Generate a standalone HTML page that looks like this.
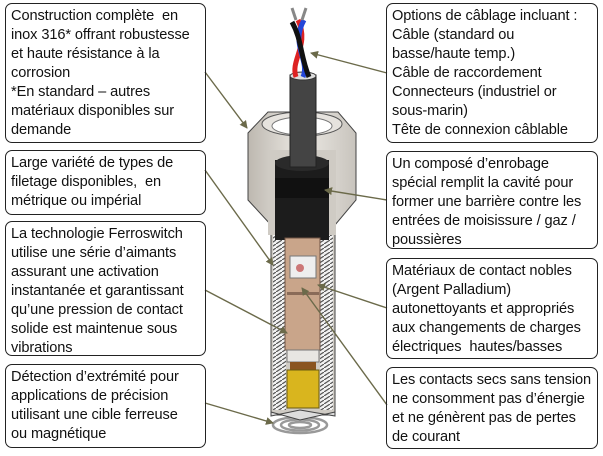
<!DOCTYPE html>
<html><head><meta charset="utf-8"><style>
html,body{margin:0;padding:0;background:#fff;}
body{width:603px;height:456px;position:relative;overflow:hidden;font-family:"Liberation Sans",sans-serif;}
.b{position:absolute;border:1.3px solid #222;border-radius:7px;box-sizing:border-box;padding:3px 2px 0 5px;font-size:14.6px;line-height:19px;color:#111;letter-spacing:-0.1px;white-space:nowrap;overflow:hidden;}
svg{position:absolute;left:0;top:0;}
</style></head><body>
<svg width="603" height="456" viewBox="0 0 603 456">
<defs>
<marker id="a" markerWidth="8" markerHeight="8" refX="7" refY="4" orient="auto" markerUnits="userSpaceOnUse"><path d="M0,0 L8,4 L0,8 z" fill="#6b6a4a"/></marker>
<pattern id="h" width="6" height="4" patternUnits="userSpaceOnUse"><rect width="6" height="4" fill="#f2f2f2"/><path d="M0,4 L6,0" stroke="#555" stroke-width="1.2"/></pattern>
<linearGradient id="g" x1="0" x2="1"><stop offset="0" stop-color="#bdb8b0"/><stop offset="0.5" stop-color="#ece9e4"/><stop offset="1" stop-color="#c8c4bd"/></linearGradient>
</defs>
<g fill="none" stroke="#999" stroke-width="2.5">
<ellipse cx="300" cy="425" rx="27" ry="8"/><ellipse cx="300" cy="425" rx="19" ry="5.5"/><ellipse cx="300" cy="425" rx="11" ry="3"/></g>
<rect x="271" y="215" width="64" height="200" fill="#cfcbc4" stroke="#444"/>
<rect x="273" y="232" width="13" height="178" fill="url(#h)"/>
<rect x="320" y="232" width="13" height="178" fill="url(#h)"/>
<path d="M271,412 L300,420 L335,412 L335,416 L300,410 L271,416z" fill="#ddd" stroke="#444"/>
<path d="M248,133 L268,112 L338,112 L356,133 L356,200 L335,225 L271,225 L248,200z" fill="url(#g)" stroke="#444"/>
<ellipse cx="302" cy="124" rx="40" ry="12" fill="#e6e3de" stroke="#555"/>
<ellipse cx="302" cy="126" rx="30" ry="9" fill="#fff" stroke="#777"/>
<rect x="268" y="150" width="68" height="85" fill="#cfcbc4"/>
<rect x="275" y="160" width="54" height="80" fill="#1c1c1c"/>
<ellipse cx="302" cy="163" rx="27" ry="8" fill="#2a2a2a"/>
<rect x="275" y="178" width="54" height="20" fill="#111"/>
<rect x="290" y="75" width="26" height="92" fill="#444" stroke="#222"/>
<ellipse cx="303" cy="76" rx="13" ry="4" fill="#ddd" stroke="#333"/>
<path d="M296,77 C290,60 310,45 298,20" stroke="#d22" stroke-width="5" fill="none"/>
<path d="M303,77 C310,60 290,45 304,20" stroke="#2446d8" stroke-width="5" fill="none"/>
<path d="M309,77 C300,55 302,40 292,22" stroke="#111" stroke-width="5" fill="none"/>
<path d="M296,20 L292,8 M302,20 L306,8" stroke="#888" stroke-width="3"/>
<rect x="285" y="238" width="35" height="112" fill="#c9a58a" stroke="#6f5444"/>
<rect x="290" y="256" width="26" height="22" fill="#eee" stroke="#777"/>
<circle cx="300" cy="268" r="4" fill="#c77"/>
<rect x="287" y="292" width="32" height="3" fill="#8a6b58"/>
<rect x="287" y="350" width="32" height="12" fill="#e8e6e2" stroke="#777"/>
<rect x="290" y="362" width="26" height="8" fill="#8a5420"/>
<rect x="287" y="370" width="32" height="38" fill="#d9b51e" stroke="#6a5a10"/>
<g stroke="#6b6a4a" stroke-width="1.4" fill="none" marker-end="url(#a)">
<line x1="205" y1="72" x2="247" y2="128"/>
<line x1="205" y1="170" x2="273" y2="265"/>
<line x1="205" y1="290" x2="287" y2="333"/>
<line x1="205" y1="403" x2="273" y2="423"/>
<line x1="387" y1="73" x2="311" y2="53"/>
<line x1="387" y1="200" x2="325" y2="190"/>
<line x1="387" y1="308" x2="318" y2="285"/>
<line x1="387" y1="405" x2="302" y2="288"/>
</g>
</svg>
<div class="b" style="left:5px;top:3px;width:201px;height:140px;">Construction complète &nbsp;en<br>inox 316* offrant robustesse<br>et haute résistance à la<br>corrosion<br>*En standard – autres<br>matériaux disponibles sur<br>demande</div>
<div class="b" style="left:5px;top:150px;width:201px;height:65px;">Large variété de types de<br>filetage disponibles, &nbsp;en<br>métrique ou impérial</div>
<div class="b" style="left:5px;top:221px;width:201px;height:135px;">La technologie Ferroswitch<br>utilise une série d’aimants<br>assurant une activation<br>instantanée et garantissant<br>qu’une pression de contact<br>solide est maintenue sous<br>vibrations</div>
<div class="b" style="left:5px;top:364px;width:201px;height:84px;">Détection d’extrémité pour<br>applications de précision<br>utilisant une cible ferreuse<br>ou magnétique</div>
<div class="b" style="left:386px;top:3px;width:212px;height:140px;">Options de câblage incluant :<br>Câble (standard ou<br>basse/haute temp.)<br>Câble de raccordement<br>Connecteurs (industriel or<br>sous-marin)<br>Tête de connexion câblable</div>
<div class="b" style="left:386px;top:151px;width:212px;height:98px;">Un composé d’enrobage<br>spécial remplit la cavité pour<br>former une barrière contre les<br>entrées de moisissure / gaz /<br>poussières</div>
<div class="b" style="left:386px;top:258px;width:212px;height:101px;">Matériaux de contact nobles<br>(Argent Palladium)<br>autonettoyants et appropriés<br>aux changements de charges<br>électriques &nbsp;hautes/basses</div>
<div class="b" style="left:386px;top:367px;width:212px;height:82px;">Les contacts secs sans tension<br>ne consomment pas d’énergie<br>et ne génèrent pas de pertes<br>de courant</div>
</body></html>
